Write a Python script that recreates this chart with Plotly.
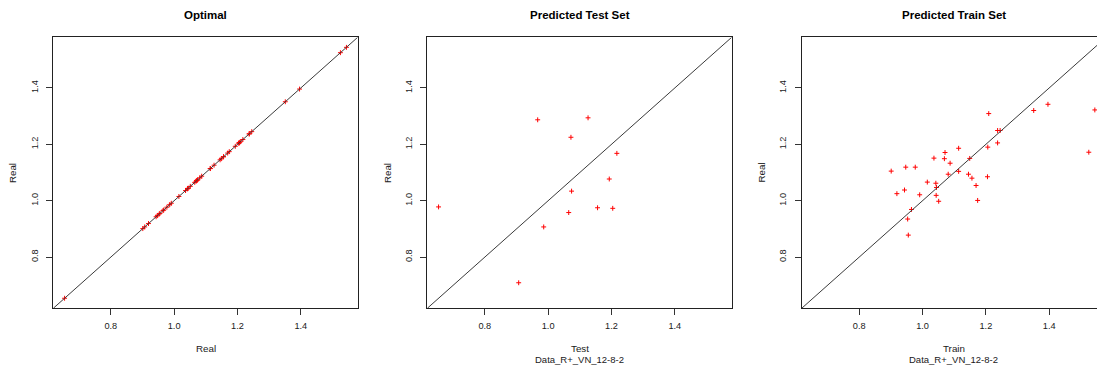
import plotly.graph_objects as go

# ---- data ----
test_x = [0.654, 0.967, 1.126, 1.072, 1.217, 1.193, 1.074, 1.065, 1.156, 1.204, 0.986, 0.907]
test_y = [0.978, 1.287, 1.294, 1.225, 1.168, 1.077, 1.034, 0.958, 0.975, 0.973, 0.907, 0.709]

train_x = [0.901, 0.919, 0.943, 0.947, 0.977, 0.953, 0.965, 0.955, 0.991, 1.015,
           1.036, 1.042, 1.044, 1.043, 1.051, 1.069, 1.071, 1.081, 1.087, 1.114,
           1.114, 1.145, 1.149, 1.156, 1.169, 1.174, 1.205, 1.206, 1.209, 1.237,
           1.237, 1.245, 1.351, 1.396, 1.525, 1.544]
train_y = [1.105, 1.025, 1.038, 1.119, 1.119, 0.935, 0.969, 0.878, 1.021, 1.066,
           1.151, 1.062, 1.047, 1.019, 0.998, 1.149, 1.171, 1.094, 1.133, 1.186,
           1.104, 1.094, 1.150, 1.080, 1.054, 1.001, 1.085, 1.190, 1.309, 1.205,
           1.249, 1.249, 1.320, 1.342, 1.172, 1.322]

optimal_vals = test_x + train_x

titles = ["Optimal", "Predicted Test Set", "Predicted Train Set"]
x_titles = ["Real", "Test", "Train"]
subtitle = "Data_R+_VN_12-8-2"
tick_vals = [0.8, 1.0, 1.2, 1.4]
tick_text = ["0.8", "1.0", "1.2", "1.4"]

# axis limits as R would compute them (range + 4%)
allv = test_x + test_y + train_x + train_y
lo, hi = min(allv), max(allv)
pad = 0.04 * (hi - lo)
lim = [lo - pad, hi + pad]

W, H = 1097, 371
box_w = 304.4
lefts = [53.3, 427.3, 801.7]
top_px, bot_px = 37.3, 308.3
ydom = [1 - bot_px / H, 1 - top_px / H]

fig = go.Figure()

series = [(optimal_vals, optimal_vals), (test_x, test_y), (train_x, train_y)]
FONT = "Liberation Sans, Arial, sans-serif"
TXT = "#1a1a1a"

annotations = []
for i, (xs, ys) in enumerate(series):
    n = "" if i == 0 else str(i + 1)
    left = lefts[i]
    right = min(left + box_w, W)
    xdom = [left / W, right / W]
    frac = (right - left) / box_w
    xr = [lim[0], lim[0] + (lim[1] - lim[0]) * frac]

    fig.add_trace(go.Scatter(
        x=xs, y=ys, mode="markers", xaxis="x" + n, yaxis="y" + n,
        marker=dict(symbol="cross-thin", size=3.5, line=dict(color="#ff0000", width=1), color="#ff0000"),
        showlegend=False, hoverinfo="skip"))
    fig.add_trace(go.Scatter(
        x=lim, y=lim, mode="lines", xaxis="x" + n, yaxis="y" + n,
        line=dict(color="#3a3a3a", width=1), showlegend=False, hoverinfo="skip"))

    fig.update_layout(**{
        "xaxis" + n: dict(domain=xdom, range=xr, anchor="y" + n, showgrid=False, zeroline=False,
                          showline=True, mirror=True, linecolor="#222", linewidth=1,
                          ticks="outside", ticklen=6, tickcolor="#333", tickwidth=1,
                          tickvals=tick_vals, ticktext=tick_text, ticklabelstandoff=3,
                          tickfont=dict(family=FONT, size=9.2, color=TXT)),
        "yaxis" + n: dict(domain=ydom, range=lim, anchor="x" + n, showgrid=False, zeroline=False,
                          showline=True, mirror=(i < 2), linecolor="#222", linewidth=1,
                          ticks="outside", ticklen=6, tickcolor="#333", tickwidth=1,
                          tickvals=tick_vals, ticktext=tick_text, tickangle=-90, ticklabelstandoff=5,
                          tickfont=dict(family=FONT, size=9.2, color=TXT)),
    })

    cx = (left + box_w / 2) / W
    annotations.append(dict(text="<b>" + titles[i] + "</b>", x=cx, y=1 - 15.3 / H, xref="paper", yref="paper",
                            showarrow=False, xanchor="center", yanchor="middle",
                            font=dict(family=FONT, size=11.5, color="#000")))
    annotations.append(dict(text=x_titles[i], x=cx, y=1 - 348.7 / H, xref="paper", yref="paper",
                            showarrow=False, xanchor="center", yanchor="middle",
                            font=dict(family=FONT, size=9.8, color=TXT)))
    if i > 0:
        annotations.append(dict(text=subtitle, x=cx, y=1 - 359.7 / H, xref="paper", yref="paper",
                                showarrow=False, xanchor="center", yanchor="middle",
                                font=dict(family=FONT, size=9.5, color=TXT)))
    annotations.append(dict(text="Real", x=(left - 40) / W, y=1 - (top_px + bot_px) / 2 / H,
                            xref="paper", yref="paper", textangle=-90,
                            showarrow=False, xanchor="center", yanchor="middle",
                            font=dict(family=FONT, size=9.8, color=TXT)))

fig.update_layout(width=W, height=H, margin=dict(l=0, r=0, t=0, b=0),
                  paper_bgcolor="white", plot_bgcolor="white", annotations=annotations)

fig.write_html("out.html", config={"displayModeBar": False},
               post_script="document.body.style.margin='0';document.body.style.overflow='hidden';")
